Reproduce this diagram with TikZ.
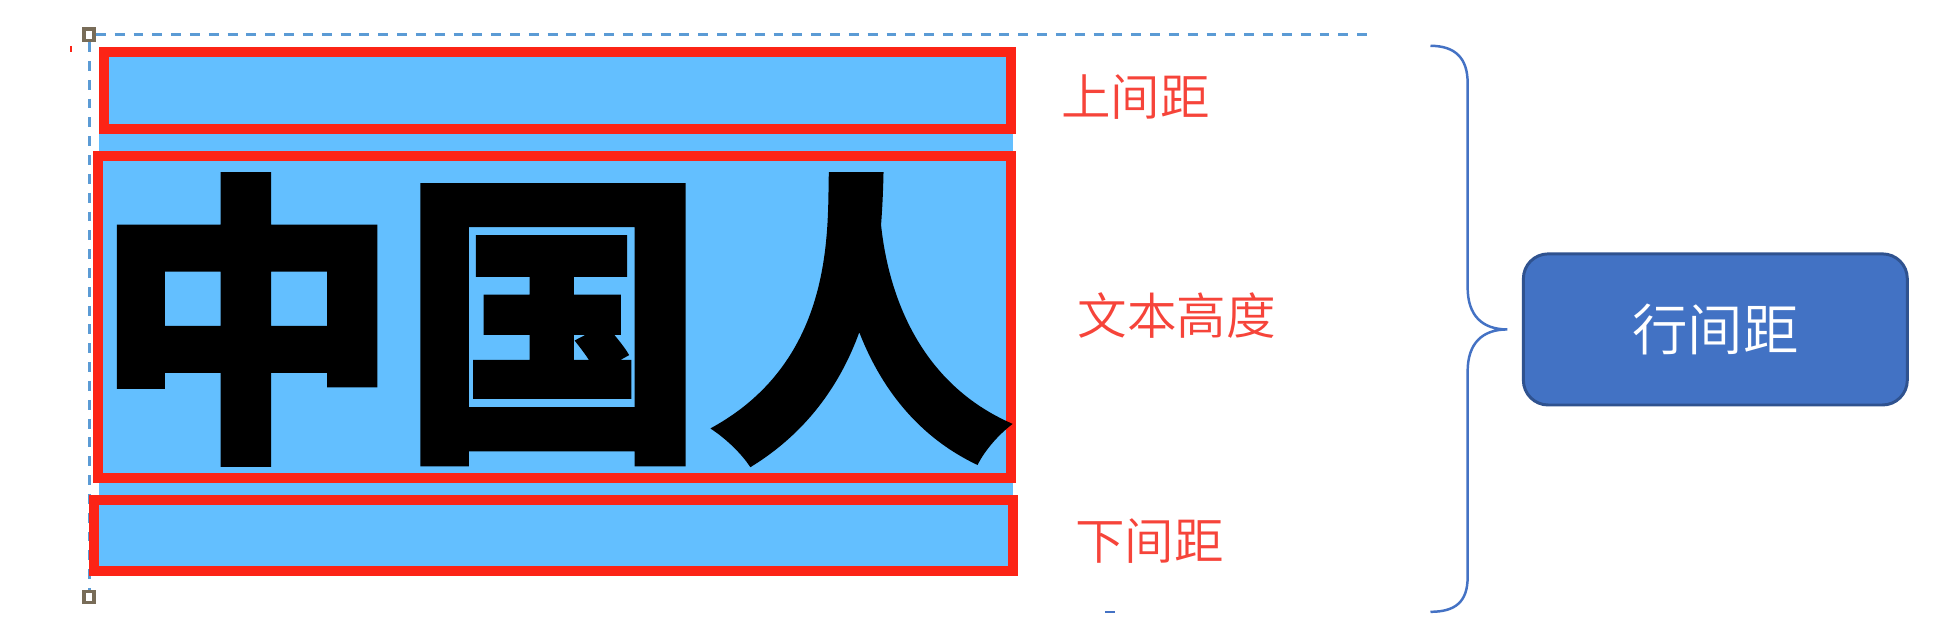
\documentclass[tikz,border=0pt]{standalone}
\usepackage{fontspec}
\newfontfamily\cjk{Noto Sans CJK SC}
\newfontfamily\cjklight{Noto Sans CJK SC}[UprightFont={* DemiLight}]
\newfontfamily\cjkheavy{Noto Sans CJK SC}[BoldFeatures={FakeBold=1.0}]
\definecolor{fillblue}{RGB}{99,191,255}
\definecolor{boxred}{RGB}{252,36,22}
\definecolor{labred}{RGB}{246,68,58}
\definecolor{dashblue}{RGB}{91,155,213}
\definecolor{bracecol}{RGB}{68,114,196}
\definecolor{pillfill}{RGB}{66,114,196}
\definecolor{pilledge}{RGB}{47,82,143}
\definecolor{handlecol}{RGB}{120,108,88}
\tikzset{
  redbox/.style={draw=boxred, line width=2pt, fill=fillblue},
  dashline/.style={draw=dashblue, line width=0.6pt, dash pattern=on 2pt off 1.8pt},
  handle/.style={draw=handlecol, fill=white, line width=0.7pt, minimum width=2pt, minimum height=2.3pt, inner sep=0pt},
  label/.style={text=labred, font=\cjklight\fontsize{10}{10}\selectfont, inner sep=0pt},
  pill/.style={draw=pilledge, fill=pillfill, line width=0.6pt, rounded corners=5pt, minimum width=77.5pt, minimum height=30.5pt, text=white, font=\cjklight\fontsize{11.2}{11.2}\selectfont},
  bracestyle/.style={draw=bracecol, line width=0.5pt}
}
\begin{document}
\begin{tikzpicture}[x=0.25pt, y=-0.25pt]
\useasboundingbox (0,0) rectangle (1568,512);
% dashed guide lines with handles
\node[handle] (h1) at (72,28) {};
\node[handle] (h2) at (72,482) {};
\coordinate (dend) at (1110,28);
\draw[dashline] (h1) -- (dend);
\draw[dashline] (h1) -- (h2);
% blue background between boxes
\fill[fillblue] (80,104) rectangle (818,404);
% red boxes
\path[redbox] (84,42) rectangle (816,104);
\path[redbox] (79,126) rectangle (816,386);
\path[redbox] (76,404) rectangle (818,461);
% handles on top
\node[handle] at (h1) {};
\node[handle] at (h2) {};
% small artifacts
\draw[boxred, line width=0.4pt] (57,37) -- (57,42);
\draw[bracecol, line width=0.5pt] (892,494) -- (900,494);
% big text
\node[inner sep=0pt, font=\cjkheavy\bfseries\fontsize{62}{62}\selectfont] (zgr) at (447,258) {中国人};
% labels
\node[label] (top) at (917,78) {上间距};
\node[label] (mid) at (950,255) {文本高度};
\node[label] (bot) at (928,437) {下间距};
% brace
\draw[bracestyle] (1155,37) .. controls (1175,37) and (1185,47) .. (1185,67) -- (1185,232) .. controls (1185,255) and (1197,266) .. (1217,266) .. controls (1197,266) and (1185,277) .. (1185,300) -- (1185,466) .. controls (1185,486) and (1175,494) .. (1155,494);
% right box
\node[pill] (hjj) at (1385,266) {行间距};
\end{tikzpicture}
\end{document}
